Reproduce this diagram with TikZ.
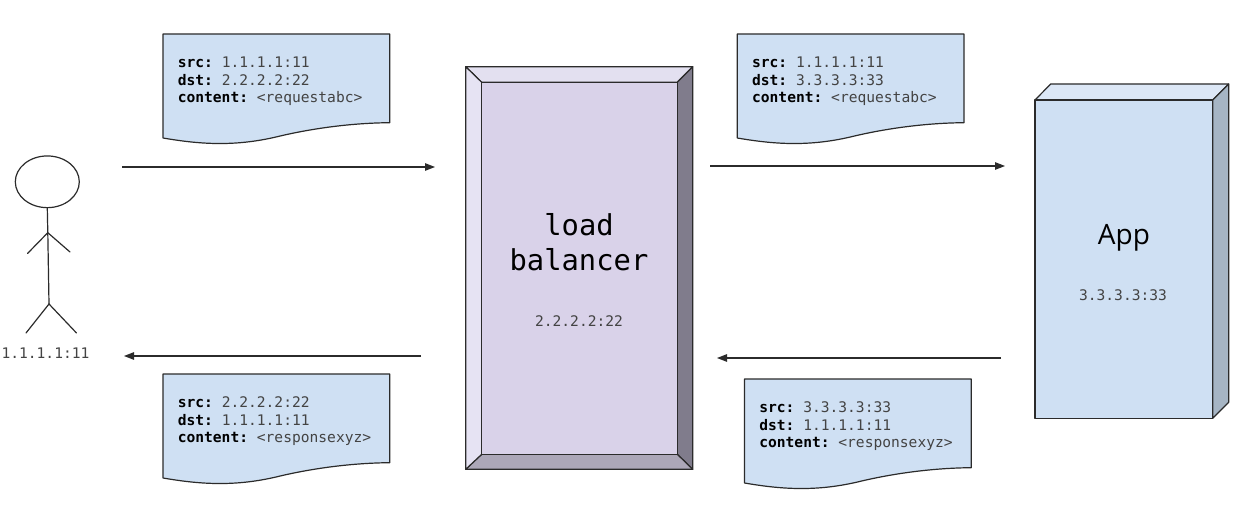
\documentclass[tikz,border=0pt]{standalone}
\usepackage{fontspec}
\setmainfont{Liberation Sans}
\setmonofont{DejaVu Sans Mono}
\newfontfamily\appfont{Open Sans}
\usetikzlibrary{arrows.meta,shapes.geometric}
\definecolor{docblue}{HTML}{CFE0F3}
\definecolor{lbface}{HTML}{D9D2E9}
\definecolor{lbtop}{HTML}{E3E0F0}
\definecolor{lbleft}{HTML}{E6E3F3}
\definecolor{lbright}{HTML}{807C8C}
\definecolor{lbbottom}{HTML}{ACA7B8}
\definecolor{apptop}{HTML}{DCE7F6}
\definecolor{appright}{HTML}{A6B5C4}
\definecolor{ink}{HTML}{2B2B2B}
\definecolor{greytext}{HTML}{434343}
\newcommand{\fieldname}[1]{\textcolor{black}{\textbf{#1}}}
\newcommand{\docsheet}[6]{%
  \begin{scope}[shift={(#2,#3)}]
    \draw[shapeline,fill=docblue] (0,0) -- (226.7,0) -- (226.7,88.7)
      .. controls (190,89) and (150,94) .. (113,103)
      .. controls (70,113) and (35,110) .. (0,104) -- cycle;
    \node[doctext] (#1) at (14.6,21.7) {\rule{0pt}{12pt}\fieldname{src:} #4\\\fieldname{dst:} #5\\\fieldname{content:} #6};
  \end{scope}}
\tikzset{
  shapeline/.style={draw=ink,line width=1.2pt,line join=round},
  doctext/.style={anchor=north west,inner sep=0pt,align=left,text=greytext,
    font=\ttfamily\fontsize{14.6}{17.3}\selectfont},
  flow/.style={draw=ink,line width=1.2pt,-{Triangle[length=10pt,width=7.5pt]}},
  figure/.style={draw=ink,line width=1.2pt,line cap=round},
  iplabel/.style={anchor=base,inner sep=0pt,text=greytext,font=\ttfamily\fontsize{14.6}{17.3}\selectfont},
  lbtitle/.style={anchor=base,inner sep=0pt,text=black,font=\ttfamily\fontsize{28.8}{34}\selectfont},
}
\begin{document}
\begin{tikzpicture}[x=1pt,y=-1pt]
\useasboundingbox (0,0) rectangle (1248,508);

% documents
\docsheet{reqa}{163}{34}{1.1.1.1:11}{2.2.2.2:22}{<requestabc>}
\docsheet{reqb}{737.3}{34}{1.1.1.1:11}{3.3.3.3:33}{<requestabc>}
\docsheet{resa}{163}{374}{2.2.2.2:22}{1.1.1.1:11}{<responsexyz>}
\docsheet{resb}{744.5}{379}{3.3.3.3:33}{1.1.1.1:11}{<responsexyz>}

% person
\node[draw=ink,line width=1.2pt,ellipse,minimum width=64pt,minimum height=51.7pt,inner sep=0pt] (head) at (47.3,181.8) {};
\coordinate (shoulder) at (47.8,232.7);
\coordinate (handl) at (27.5,253.5);
\coordinate (handr) at (70,252);
\coordinate (hip) at (49,304);
\coordinate (footl) at (26,333);
\coordinate (footr) at (76.5,333);
\draw[figure] (head.south) -- (shoulder) -- (hip);
\draw[figure] (handl) -- (shoulder) -- (handr);
\draw[figure] (footl) -- (hip) -- (footr);
\node[iplabel] (clientip) at (45.5,358) {1.1.1.1:11};

% load balancer
\coordinate (lo1) at (465.7,66.7);
\coordinate (lo2) at (692.7,66.7);
\coordinate (lo3) at (692.7,469.3);
\coordinate (lo4) at (465.7,469.3);
\coordinate (li1) at (481.7,82.3);
\coordinate (li2) at (677.3,82.3);
\coordinate (li3) at (677.3,454.3);
\coordinate (li4) at (481.7,454.3);
\draw[shapeline,fill=lbtop] (lo1) -- (lo2) -- (li2) -- (li1) -- cycle;
\draw[shapeline,fill=lbright] (lo2) -- (lo3) -- (li3) -- (li2) -- cycle;
\draw[shapeline,fill=lbbottom] (lo3) -- (lo4) -- (li4) -- (li3) -- cycle;
\draw[shapeline,fill=lbleft] (lo4) -- (lo1) -- (li1) -- (li4) -- cycle;
\draw[shapeline,fill=lbface] (li1) -- (li2) -- (li3) -- (li4) -- cycle;
\node[lbtitle] (lbname1) at (579,235.7) {load};
\node[lbtitle] (lbname2) at (579,270) {balancer};
\node[iplabel] (lbip) at (579,326) {2.2.2.2:22};

% app
\coordinate (af1) at (1035,100);
\coordinate (af2) at (1212.7,100);
\coordinate (af3) at (1212.7,418.3);
\coordinate (af4) at (1035,418.3);
\coordinate (ab1) at (1050.7,84);
\coordinate (ab2) at (1228.7,84);
\coordinate (ab3) at (1228.7,402.3);
\draw[shapeline,fill=apptop] (af1) -- (ab1) -- (ab2) -- (af2) -- cycle;
\draw[shapeline,fill=appright] (af2) -- (ab2) -- (ab3) -- (af3) -- cycle;
\draw[shapeline,fill=docblue] (af1) -- (af2) -- (af3) -- (af4) -- cycle;
\node[anchor=base,inner sep=0pt,text=black,font=\appfont\fontsize{28}{34}\selectfont] (appname) at (1124,244) {App};
\node[iplabel] (appip) at (1123,300) {3.3.3.3:33};

% flows
\coordinate (f1s) at (122,167);
\coordinate (f1e) at (435,167);
\coordinate (f2s) at (421,356);
\coordinate (f2e) at (124,356);
\coordinate (f3s) at (710,166);
\coordinate (f3e) at (1005,166);
\coordinate (f4s) at (1001,358);
\coordinate (f4e) at (717,358);
\draw[flow] (f1s) -- (f1e);
\draw[flow] (f2s) -- (f2e);
\draw[flow] (f3s) -- (f3e);
\draw[flow] (f4s) -- (f4e);
\end{tikzpicture}
\end{document}
